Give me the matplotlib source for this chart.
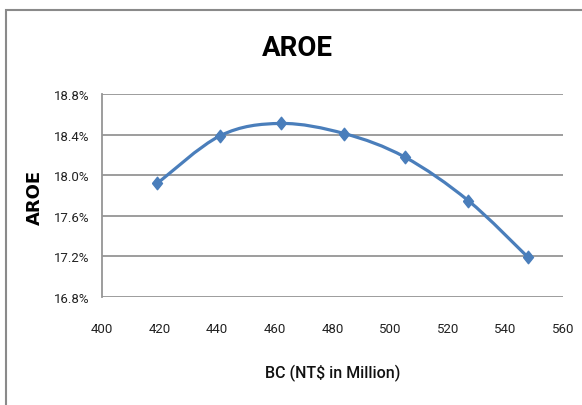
import matplotlib
matplotlib.use("Agg")
import matplotlib.pyplot as plt
from matplotlib.path import Path
from matplotlib.patches import PathPatch, Rectangle
from matplotlib.ticker import FuncFormatter
import numpy as np

# BC in NT$ million and the matching AROE (%)
bc = [419.2, 441.1, 462.0, 484.1, 505.0, 527.1, 547.9]
aroe = [17.92, 18.39, 18.51, 18.41, 18.18, 17.75, 17.19]

x_ticks = [400, 420, 440, 460, 480, 500, 520, 540, 560]
y_ticks = [16.8, 17.2, 17.6, 18.0, 18.4, 18.8]

blue = "#4a7ebb"
grid_gray = "#959595"
narrow = ["Roboto", "DejaVu Sans"]

fig = plt.figure(figsize=(5.82, 4.06), dpi=100)
ax = fig.add_axes([102 / 582, 108 / 406, 461 / 582, 203 / 406])

# smoothed line: cubic bezier segments through the points (catmull-rom style)
pts = np.column_stack([bc, aroe])
verts = [tuple(pts[0])]
codes = [Path.MOVETO]
n = len(pts)
for i in range(n - 1):
    p0 = pts[i - 1] if i > 0 else pts[i]
    p1 = pts[i]
    p2 = pts[i + 1]
    p3 = pts[i + 2] if i + 2 < n else pts[i + 1]
    c1 = p1 + (p2 - p0) / 6.0
    c2 = p2 - (p3 - p1) / 6.0
    verts += [tuple(c1), tuple(c2), tuple(p2)]
    codes += [Path.CURVE4] * 3
ax.add_patch(PathPatch(Path(verts, codes), facecolor="none", edgecolor=blue,
                       lw=2.3, capstyle="round", joinstyle="round", zorder=3))

diamond = [(-0.8, 0), (0, 1), (0.8, 0), (0, -1), (-0.8, 0)]
ax.plot(bc, aroe, linestyle="none", marker=diamond, markersize=9,
        color=blue, zorder=4)

ax.set_xlim(400, 560)
ax.set_ylim(16.8, 18.8)
ax.set_xticks(x_ticks)
ax.set_yticks(y_ticks)
ax.yaxis.set_major_formatter(FuncFormatter(lambda v, p: f"{v:.1f}%"))

ax.grid(axis="y", color=grid_gray, lw=1.3)
ax.set_axisbelow(True)
for s in ["top", "right", "bottom"]:
    ax.spines[s].set_visible(False)
ax.spines["left"].set_color(grid_gray)
ax.spines["left"].set_linewidth(1.3)
ax.tick_params(axis="both", length=0, labelsize=9.5, colors="#222222")
ax.tick_params(axis="x", pad=18)
ax.tick_params(axis="y", pad=9)
for lab in ax.get_xticklabels() + ax.get_yticklabels():
    lab.set_family(narrow)

fig.text(297 / 582, 1 - 49 / 406, "AROE", ha="center", va="center",
         fontsize=20, fontweight="bold", family=narrow)
fig.text(333 / 582, 1 - 373 / 406, "BC (NT$ in Million)", ha="center",
         va="center", fontsize=11.5, fontweight="medium", family=narrow,
         color="#111111")
fig.text(35 / 582, 1 - 197 / 406, "AROE", ha="center", va="center",
         rotation=90, fontsize=13, fontweight="bold", family="DejaVu Sans")

# outer chart frame
fig.patches.append(Rectangle((6 / 582, -0.2), 1.2, 1.2 - 11 / 406,
                             transform=fig.transFigure, fill=False,
                             edgecolor="#8a8a8a", lw=1.5))

fig.savefig("out.png", dpi=100)
